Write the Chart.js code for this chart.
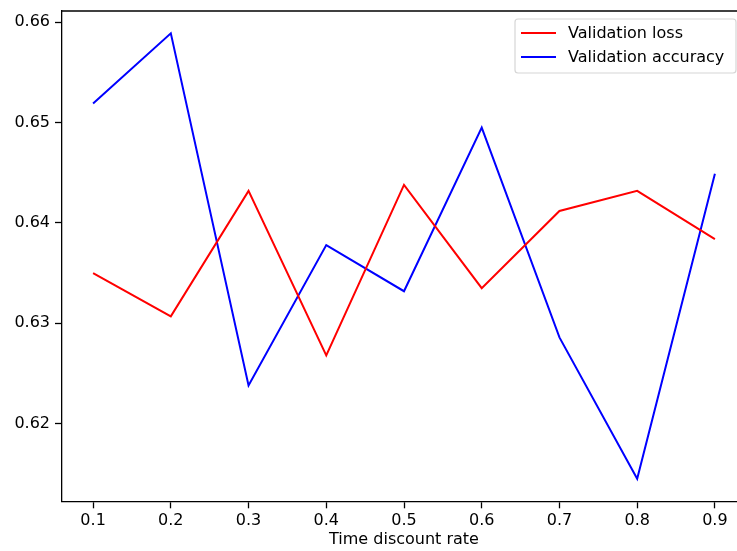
<!DOCTYPE html>
<html>
<head>
<meta charset="utf-8">
<script src="https://cdn.jsdelivr.net/npm/chart.js@4"></script>
<style>
  html, body { margin: 0; padding: 0; background: #fff; overflow: hidden; }
  #wrap { position: relative; width: 737px; height: 551px; overflow: hidden; }
  #c { display: block; }
</style>
</head>
<body>
<div id="wrap"><canvas id="c" width="760" height="551" style="width:760px;height:551px"></canvas></div>
<script>
const discountRates = [0.1, 0.2, 0.3, 0.4, 0.5, 0.6, 0.7, 0.8, 0.9];
const validationLoss = [0.6350, 0.6307, 0.6432, 0.6268, 0.6438, 0.6335, 0.6412, 0.6432, 0.6384];
const validationAccuracy = [0.6519, 0.6589, 0.6238, 0.6378, 0.6332, 0.6495, 0.6286, 0.6145, 0.6449];
const xTickValues = [0.1, 0.2, 0.3, 0.4, 0.5, 0.6, 0.7, 0.8, 0.9];
const yTickValues = [0.62, 0.63, 0.64, 0.65, 0.66];
const seriesNames = ['Validation loss', 'Validation accuracy'];
const seriesColors = ['#ff0000', '#0000ff'];
const xTitle = 'Time discount rate';

const FONT = '"DejaVu Sans", sans-serif';

function zeroPad(s) {
  s.paddingTop = 0; s.paddingBottom = 0; s.paddingLeft = 0; s.paddingRight = 0;
}

const framePlugin = {
  id: 'frame',
  afterDraw(chart) {
    const ctx = chart.ctx;
    const a = chart.chartArea;
    ctx.save();
    ctx.strokeStyle = '#000';
    ctx.lineWidth = 1.3;
    ctx.beginPath();
    ctx.moveTo(a.left, a.top);
    ctx.lineTo(a.right, a.top);
    ctx.stroke();
    // legend
    const bx = 515, by = 19, bw = 221, bh = 54, r = 3;
    ctx.fillStyle = 'rgba(255,255,255,0.8)';
    ctx.strokeStyle = '#d6d6d6';
    ctx.lineWidth = 1.2;
    ctx.beginPath();
    ctx.roundRect(bx, by, bw, bh, r);
    ctx.fill();
    ctx.stroke();
    const rows = [33, 57];
    ctx.font = '16px ' + FONT;
    ctx.textBaseline = 'middle';
    ctx.textAlign = 'left';
    seriesNames.forEach((n, i) => {
      ctx.strokeStyle = seriesColors[i];
      ctx.lineWidth = 2;
      ctx.beginPath();
      ctx.moveTo(521, rows[i]);
      ctx.lineTo(556, rows[i]);
      ctx.stroke();
      ctx.fillStyle = '#000';
      ctx.fillText(n, 568, rows[i] + 1);
    });
    ctx.restore();
  }
};

new Chart(document.getElementById('c'), {
  type: 'line',
  data: {
    datasets: [
      {
        label: seriesNames[0],
        data: discountRates.map((x, i) => ({ x, y: validationLoss[i] })),
        borderColor: seriesColors[0],
        borderWidth: 2,
        pointRadius: 0,
        tension: 0,
        fill: false
      },
      {
        label: seriesNames[1],
        data: discountRates.map((x, i) => ({ x, y: validationAccuracy[i] })),
        borderColor: seriesColors[1],
        borderWidth: 2,
        pointRadius: 0,
        tension: 0,
        fill: false
      }
    ]
  },
  options: {
    responsive: false,
    animation: false,
    events: [],
    devicePixelRatio: 1,
    layout: { padding: { left: 0, top: 11, right: 14, bottom: 0 } },
    plugins: {
      legend: { display: false },
      tooltip: { enabled: false }
    },
    scales: {
      x: {
        type: 'linear',
        min: 0.06,
        max: 0.94,
        afterBuildTicks: (s) => { s.ticks = xTickValues.map(v => ({ value: v })); },
        afterFit: (s) => { s.height = 49.7; zeroPad(s); },
        grid: { drawOnChartArea: false, tickLength: 7, tickColor: '#000', tickWidth: 1.3 },
        border: { display: true, color: '#000', width: 1.3 },
        ticks: {
          color: '#000',
          font: { family: FONT, size: 16 },
          padding: 3,
          maxRotation: 0,
          autoSkip: false,
          callback: (v) => v.toFixed(1)
        },
        title: {
          display: true,
          text: xTitle,
          color: '#000',
          font: { family: FONT, size: 16 },
          padding: { top: 0, bottom: 2 }
        }
      },
      y: {
        type: 'linear',
        min: 0.61226,
        max: 0.66113,
        afterBuildTicks: (s) => { s.ticks = yTickValues.map(v => ({ value: v })); },
        afterFit: (s) => { s.width = 62; zeroPad(s); },
        grid: { drawOnChartArea: false, tickLength: 7, tickColor: '#000', tickWidth: 1.3 },
        border: { display: true, color: '#000', width: 1.3 },
        ticks: {
          color: '#000',
          font: { family: FONT, size: 16 },
          padding: 5,
          autoSkip: false,
          callback: (v) => v.toFixed(2)
        }
      }
    }
  },
  plugins: [framePlugin]
});
</script>
</body>
</html>
